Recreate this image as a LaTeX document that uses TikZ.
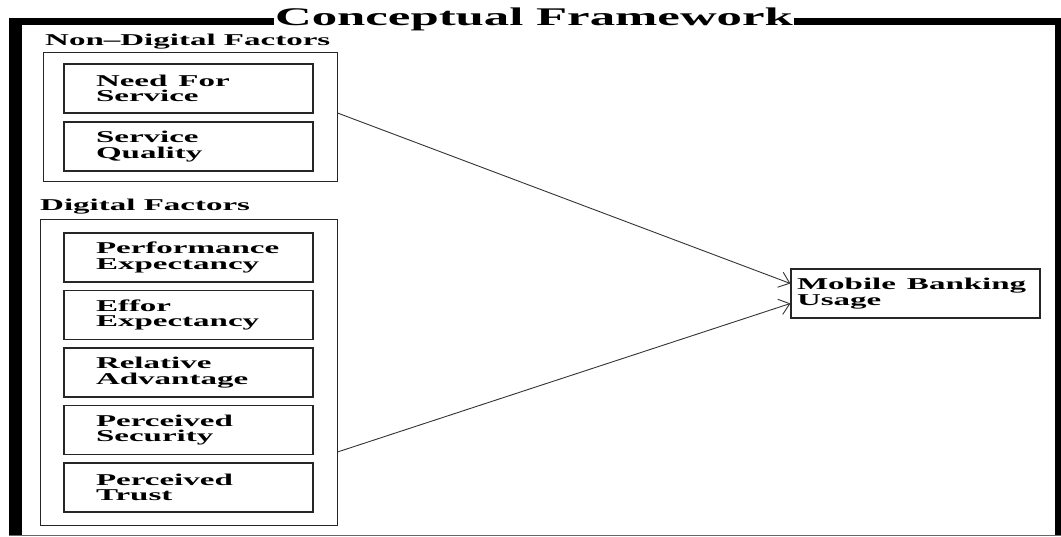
\documentclass[tikz,border=0pt]{standalone}
\usepackage{fontspec}
\setmainfont{Liberation Serif}
\usepackage{graphicx}
\usetikzlibrary{arrows.meta}

\newcommand{\wideone}[1]{\scalebox{2}[1]{#1}}
\newcommand{\widetwo}[2]{\scalebox{2}[1]{\vbox{\baselineskip=15.5pt\lineskiplimit=-20pt\hbox{#1}\hbox{#2}}}}

\begin{document}
\begin{tikzpicture}[
  x=1pt,y=-1pt,
  font=\fontsize{16.5}{15.5}\selectfont\bfseries,
  factor/.style={draw=black!85,line width=1.2pt,minimum height=49pt,text width=185pt,inner xsep=32pt,inner ysep=0pt,align=left},
  group/.style={draw=black!85,line width=1pt,inner sep=0pt},
  grouplabel/.style={anchor=base west,inner sep=0pt},
  outcome/.style={draw=black!85,line width=1.2pt,minimum height=49pt,text width=237pt,inner xsep=6pt,inner ysep=0pt,align=left},
  link/.style={draw=black!80,line width=0.9pt,-{Straight Barb[length=10pt,width=16pt]}}
]
\useasboundingbox (0,0) rectangle (1061,537);

\draw[line width=13pt] (15.5,18) -- (15.5,535);
\draw[line width=7pt] (9,21.5) -- (1061,21.5);
\draw[line width=6pt] (1058,18) -- (1058,535);
\draw[line width=1pt,black!60] (9,535) -- (1061,535);
\node[fill=white,inner xsep=1pt,inner ysep=2pt,anchor=base,font=\fontsize{25.4}{30}\selectfont\bfseries] (title) at (534,26) {\wideone{Conceptual Framework}};

\node[group,minimum width=294pt,minimum height=129pt] (nondigital) at (190,117.5) {};
\node[group,minimum width=297pt,minimum height=305pt] (digital) at (188.5,372.5) {};
\node[grouplabel] (ndlabel) at (45,46) {\wideone{Non--Digital Factors}};
\node[grouplabel] (dlabel) at (40,211) {\wideone{Digital Factors}};

\node[factor] (nd-1) at (188.5,88.5) {\widetwo{Need For}{Service}};
\node[factor] (nd-2) at (188.5,146.5) {\widetwo{Service}{Quality}};
\foreach \a/\b [count=\i] in {Performance/Expectancy,Effor/Expectancy,Relative/Advantage,Perceived/Security,Perceived/Trust}{
  \node[factor] (d-\i) at (188.5,{257.5+57.5*(\i-1)}) {\widetwo{\a}{\b}};
}

\node[outcome] (usage) at (915.5,293.5) {\widetwo{Mobile Banking}{Usage}};

\draw[link] ([yshift=4.5pt]nondigital.east) -- ([yshift=10pt]usage.west);
\draw[link] ([yshift=-79.5pt]digital.east) -- ([yshift=-10pt]usage.west);
\end{tikzpicture}
\end{document}
